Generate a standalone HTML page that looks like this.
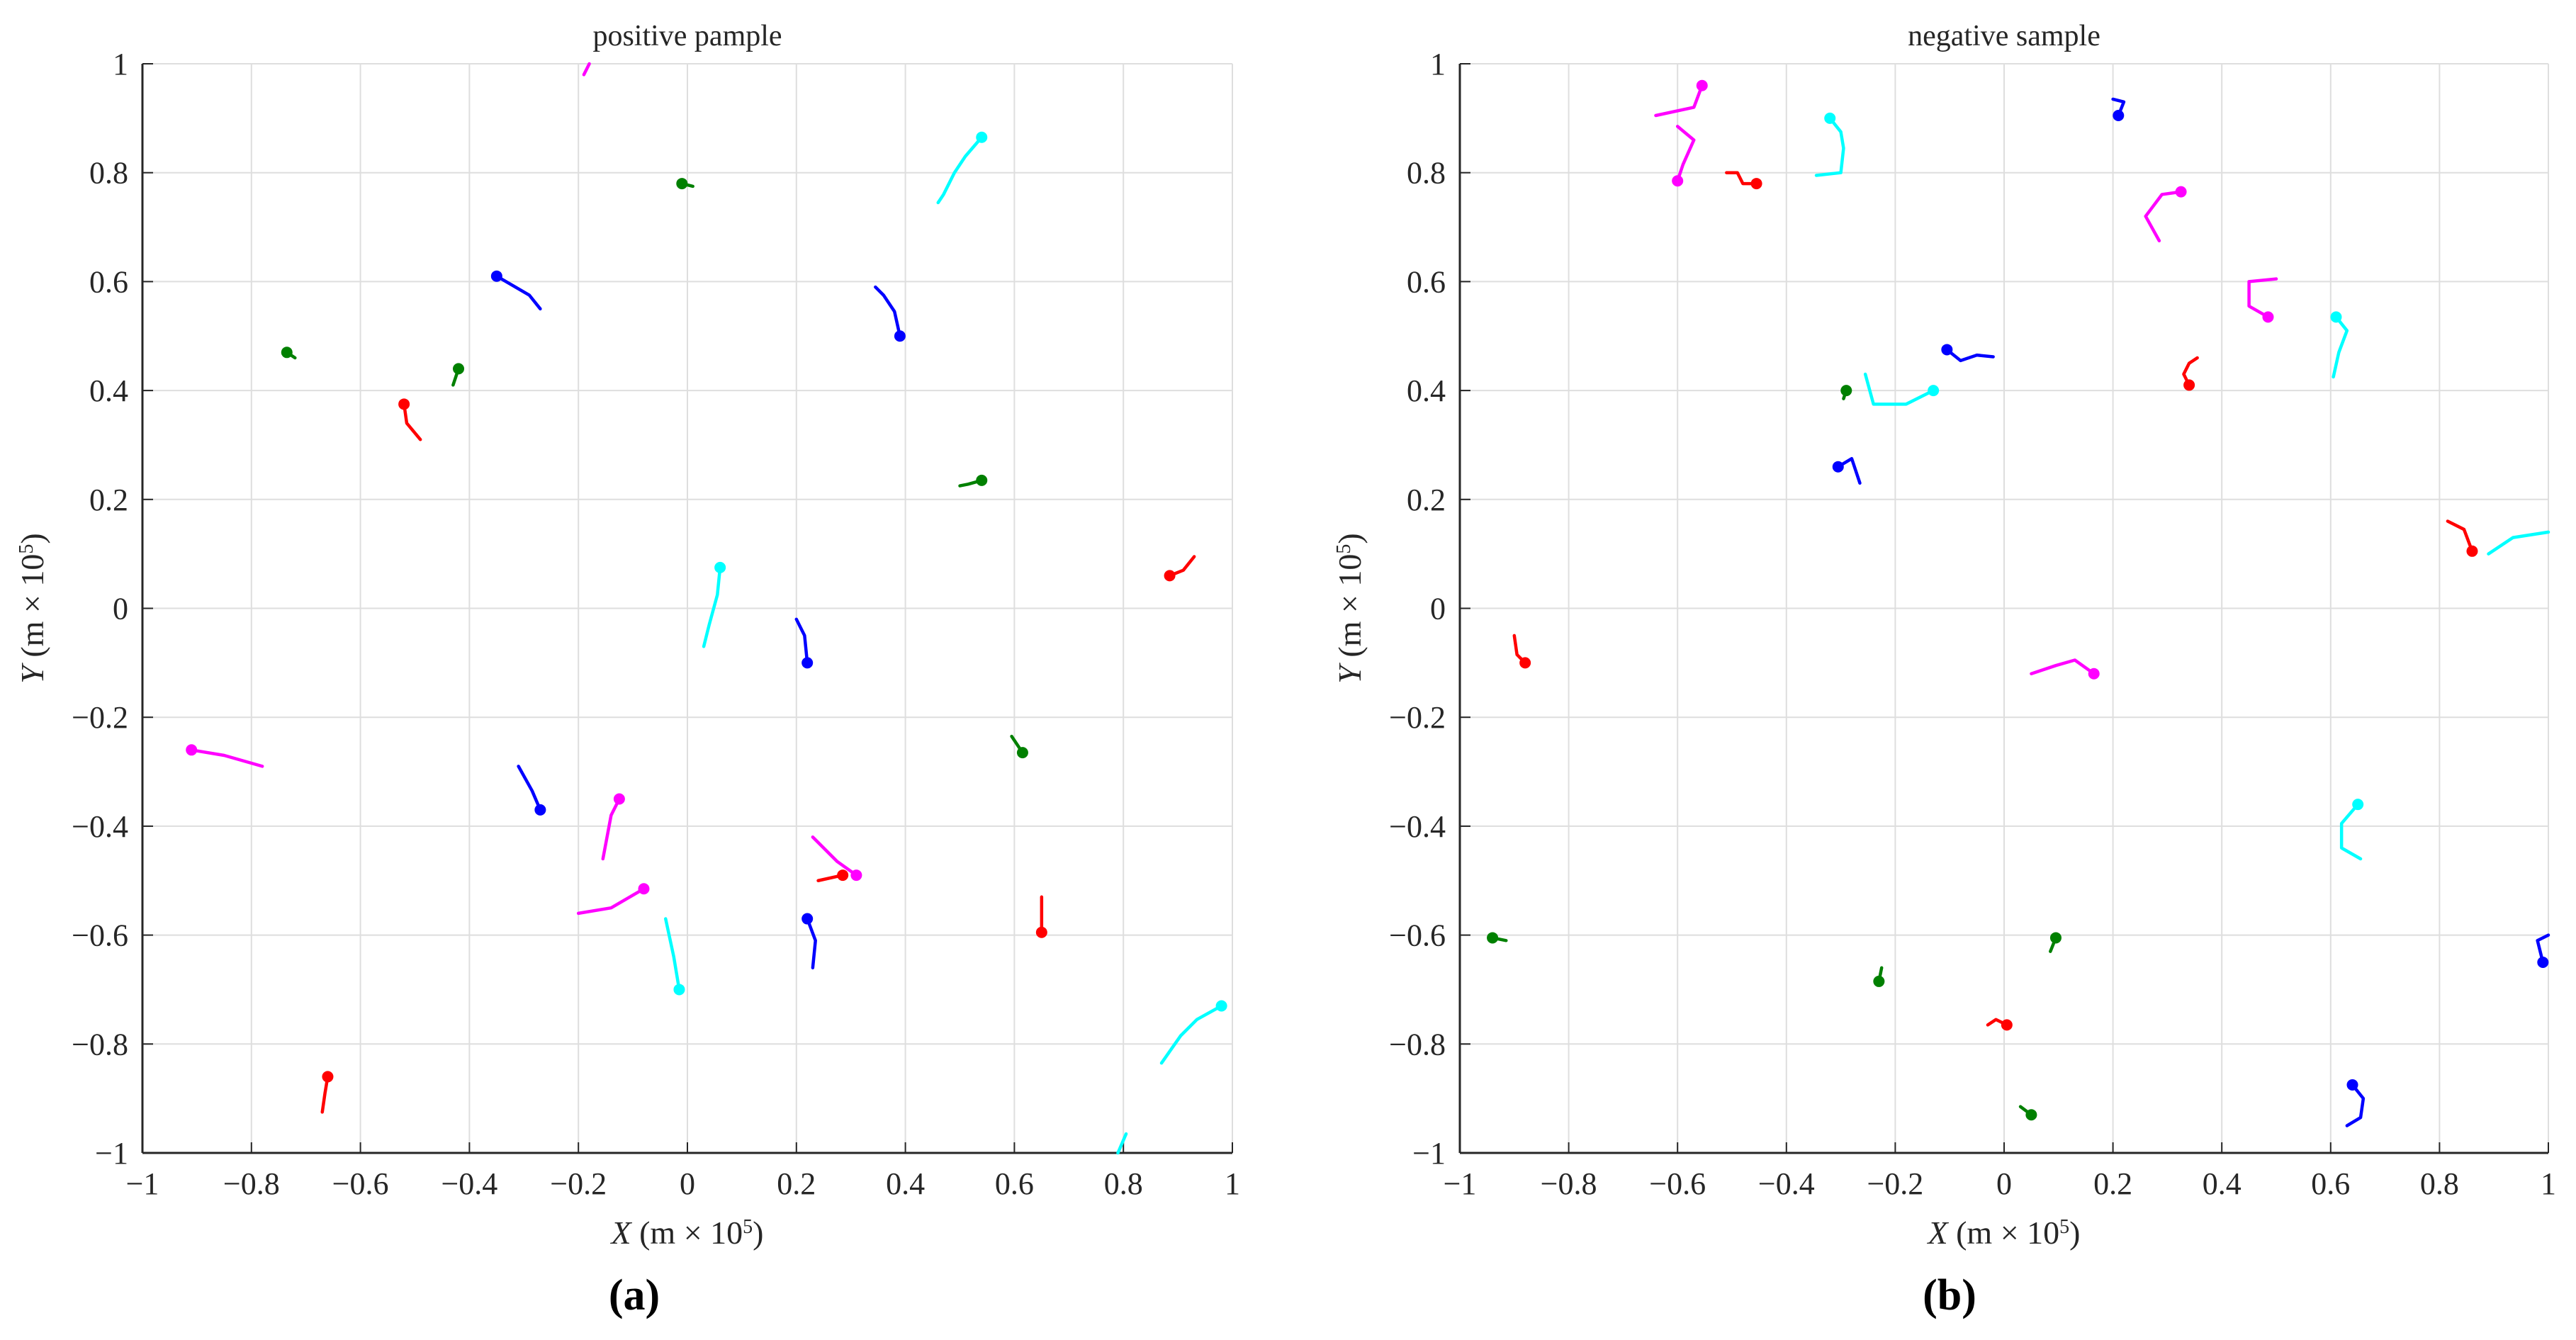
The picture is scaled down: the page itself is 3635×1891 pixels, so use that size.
<!DOCTYPE html>
<html><head><meta charset="utf-8"><style>
html,body{margin:0;padding:0;background:#fff;}
svg{display:block;font-family:"Liberation Serif",serif;}
</style></head><body>
<svg id="fig" width="3635" height="1891" viewBox="0 0 3635 1891" xmlns="http://www.w3.org/2000/svg"></svg>
<script>
// ---- data ----
const xTicks = [-1,-0.8,-0.6,-0.4,-0.2,0,0.2,0.4,0.6,0.8,1];
const yTicks = [-1,-0.8,-0.6,-0.4,-0.2,0,0.2,0.4,0.6,0.8,1];
const xTickLabels = ["\u22121","\u22120.8","\u22120.6","\u22120.4","\u22120.2","0","0.2","0.4","0.6","0.8","1"];
const yTickLabels = ["\u22121","\u22120.8","\u22120.6","\u22120.4","\u22120.2","0","0.2","0.4","0.6","0.8","1"];
// trajectories: first point is the current position (dot) when hasDot is true
const posColors = ["m","g","c","b","g","g","r","b","g","r","c","b","m","g","b","m","m","r","m","r","b","c","c","r","c"];
const posDots = [0,1,1,1,1,1,1,1,1,1,1,1,1,1,1,1,1,1,1,1,1,1,1,1,0];
const posTracks = [
 [[-0.19,0.98],[-0.18,1.0]],
 [[-0.01,0.78],[0.01,0.775]],
 [[0.54,0.865],[0.51,0.83],[0.49,0.8],[0.47,0.76],[0.46,0.745]],
 [[-0.35,0.61],[-0.29,0.575],[-0.27,0.55]],
 [[-0.735,0.47],[-0.72,0.46]],
 [[-0.42,0.44],[-0.43,0.41]],
 [[-0.52,0.375],[-0.515,0.34],[-0.49,0.31]],
 [[0.39,0.5],[0.38,0.545],[0.36,0.575],[0.345,0.59]],
 [[0.54,0.235],[0.515,0.228],[0.5,0.225]],
 [[0.885,0.06],[0.91,0.07],[0.93,0.095]],
 [[0.06,0.075],[0.055,0.025],[0.04,-0.03],[0.03,-0.07]],
 [[0.22,-0.1],[0.215,-0.05],[0.2,-0.02]],
 [[-0.91,-0.26],[-0.85,-0.27],[-0.78,-0.29]],
 [[0.615,-0.265],[0.595,-0.235]],
 [[-0.27,-0.37],[-0.285,-0.335],[-0.31,-0.29]],
 [[-0.125,-0.35],[-0.14,-0.38],[-0.155,-0.46]],
 [[-0.08,-0.515],[-0.14,-0.55],[-0.2,-0.56]],
 [[0.285,-0.49],[0.24,-0.5]],
 [[0.31,-0.49],[0.275,-0.465],[0.23,-0.42]],
 [[0.65,-0.595],[0.65,-0.53]],
 [[0.22,-0.57],[0.235,-0.61],[0.23,-0.66]],
 [[-0.015,-0.7],[-0.025,-0.64],[-0.04,-0.57]],
 [[0.98,-0.73],[0.935,-0.755],[0.905,-0.785],[0.87,-0.835]],
 [[-0.66,-0.86],[-0.665,-0.89],[-0.67,-0.925]],
 [[0.79,-1.0],[0.805,-0.965]]
];
const negColors = ["m","m","c","r","b","m","m","c","r","b","c","g","b","r","c","r","m","c","g","g","b","g","r","g","b"];
const negDots = [1,1,1,1,1,1,1,1,1,1,1,1,1,1,0,1,1,1,1,1,1,1,1,1,1];
const negTracks = [
 [[-0.555,0.96],[-0.57,0.92],[-0.64,0.905]],
 [[-0.6,0.785],[-0.59,0.815],[-0.57,0.86],[-0.6,0.885]],
 [[-0.32,0.9],[-0.3,0.875],[-0.295,0.845],[-0.3,0.8],[-0.345,0.795]],
 [[-0.455,0.78],[-0.48,0.78],[-0.49,0.8],[-0.51,0.8]],
 [[0.21,0.905],[0.22,0.93],[0.2,0.935]],
 [[0.325,0.765],[0.29,0.76],[0.26,0.72],[0.285,0.675]],
 [[0.485,0.535],[0.45,0.555],[0.45,0.6],[0.5,0.605]],
 [[0.61,0.535],[0.63,0.51],[0.615,0.47],[0.605,0.425]],
 [[0.34,0.41],[0.33,0.43],[0.34,0.45],[0.355,0.46]],
 [[-0.105,0.475],[-0.08,0.455],[-0.05,0.465],[-0.02,0.462]],
 [[-0.13,0.4],[-0.18,0.375],[-0.24,0.375],[-0.255,0.43]],
 [[-0.29,0.4],[-0.295,0.385]],
 [[-0.305,0.26],[-0.28,0.275],[-0.265,0.23]],
 [[0.86,0.105],[0.845,0.145],[0.815,0.16]],
 [[0.89,0.1],[0.935,0.13],[1.0,0.14]],
 [[-0.88,-0.1],[-0.895,-0.085],[-0.9,-0.05]],
 [[0.165,-0.12],[0.13,-0.095],[0.095,-0.105],[0.05,-0.12]],
 [[0.65,-0.36],[0.62,-0.395],[0.62,-0.44],[0.655,-0.46]],
 [[-0.94,-0.605],[-0.915,-0.61]],
 [[0.095,-0.605],[0.085,-0.63]],
 [[0.99,-0.65],[0.98,-0.61],[1.0,-0.6]],
 [[-0.23,-0.685],[-0.225,-0.66]],
 [[0.005,-0.765],[-0.015,-0.755],[-0.03,-0.765]],
 [[0.05,-0.93],[0.03,-0.915]],
 [[0.64,-0.875],[0.66,-0.9],[0.655,-0.935],[0.63,-0.95]]
];
// ---- drawing ----
const colorMap = {r:"#ff0000",g:"#008000",b:"#0000ff",c:"#00ffff",m:"#ff00ff"};
const NS = "http://www.w3.org/2000/svg";
const svg = document.getElementById("fig");
function mk(tag, attrs, parent){
  const e = document.createElementNS(NS, tag);
  for (const k in attrs) e.setAttribute(k, attrs[k]);
  (parent||svg).appendChild(e);
  return e;
}
function panel(opts){
  const {x0,x1,y0,y1,title,name,tracks,colors,dots,label} = opts;
  const g = mk("g",{});
  
  
  const sx = v => x0 + (v+1)/2*(x1-x0);
  const sy = v => y1 - (v+1)/2*(y1-y0);
  // grid
  xTicks.forEach(t=>{
    const l = mk("line",{x1:sx(t),x2:sx(t),y1:y0,y2:y1,stroke:"#dedede","stroke-width":2},g);
    
    
  });
  yTicks.forEach(t=>{
    const l = mk("line",{x1:x0,x2:x1,y1:sy(t),y2:sy(t),stroke:"#dedede","stroke-width":2},g);
    
    
  });
  // axes
  const ax = mk("line",{x1:x0,x2:x1,y1:y1,y2:y1,stroke:"#262626","stroke-width":3},g);
  
  
  const ay = mk("line",{x1:x0,x2:x0,y1:y0,y2:y1,stroke:"#262626","stroke-width":3},g);
  
  
  xTicks.forEach((t,i)=>{
    mk("line",{x1:sx(t),x2:sx(t),y1:y1,y2:y1-15,stroke:"#262626","stroke-width":2},g);
    const tx = mk("text",{x:sx(t),y:y1+58,"font-size":44,"text-anchor":"middle",fill:"#262626"},g);
    tx.textContent = xTickLabels[i];
    
    
  });
  yTicks.forEach((t,i)=>{
    mk("line",{x1:x0,x2:x0+15,y1:sy(t),y2:sy(t),stroke:"#262626","stroke-width":2},g);
    const tx = mk("text",{x:x0-20,y:sy(t)+15,"font-size":44,"text-anchor":"end",fill:"#262626"},g);
    tx.textContent = yTickLabels[i];
    
    
  });
  // title
  const tt = mk("text",{x:(x0+x1)/2,y:64,"font-size":42,"text-anchor":"middle",fill:"#262626"},g);
  tt.textContent = title;
  
  
  // axis labels
  const xl = mk("text",{x:(x0+x1)/2,y:y1+128,"font-size":46,"text-anchor":"middle",fill:"#262626"},g);
  xl.innerHTML = '<tspan font-style="italic">X</tspan> (m \u00d7 10<tspan baseline-shift="super" font-size="28">5</tspan>)';
  
  
  const yl = mk("text",{x:0,y:0,"font-size":46,"text-anchor":"middle",fill:"#262626",transform:`translate(${x0-140},${(y0+y1)/2}) rotate(-90)`},g);
  yl.innerHTML = '<tspan font-style="italic">Y</tspan> (m \u00d7 10<tspan baseline-shift="super" font-size="28">5</tspan>)';
  
  
  const pl = mk("text",{x:opts.labelX,y:1848,"font-size":62,"font-weight":"bold","text-anchor":"middle",fill:"#000"},g);
  pl.textContent = label;
  
  
  // tracks
  tracks.forEach((tr,i)=>{
    const col = colorMap[colors[i]];
    const pts = tr.map(p=>sx(p[0])+","+sy(p[1])).join(" ");
    const pln = mk("polyline",{points:pts,fill:"none",stroke:col,"stroke-width":4.5,"stroke-linejoin":"round","stroke-linecap":"round"},g);
    
    
    if (dots[i]) {
      const c = mk("circle",{cx:sx(tr[0][0]),cy:sy(tr[0][1]),r:8,fill:col},g);
      
      
    }
  });
}
panel({x0:201,x1:1739,y0:90,y1:1627,title:"positive pample",name:"positive-sample-panel",tracks:posTracks,colors:posColors,dots:posDots,label:"(a)",labelX:895});
panel({x0:2060,x1:3596,y0:90,y1:1627,title:"negative sample",name:"negative-sample-panel",tracks:negTracks,colors:negColors,dots:negDots,label:"(b)",labelX:2751});
</script>
</body></html>
